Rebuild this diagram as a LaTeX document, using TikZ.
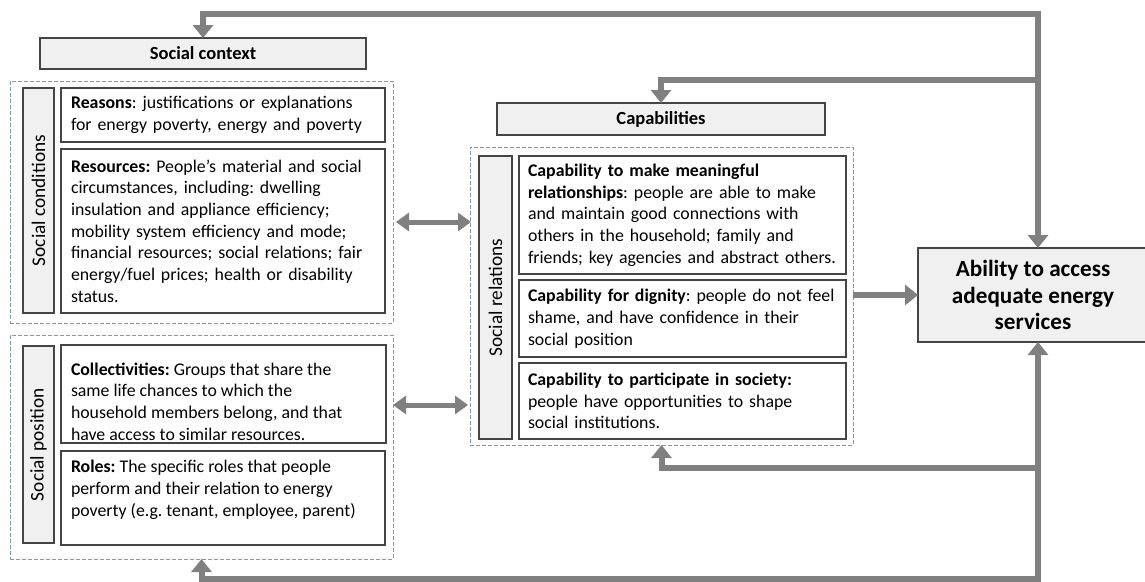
\documentclass[tikz,border=0pt]{standalone}
\usepackage{fontspec}
\setmainfont{Carlito}
\usetikzlibrary{arrows.meta}
\definecolor{arrowgray}{HTML}{808080}
\definecolor{boxline}{HTML}{454545}
\definecolor{hdrfill}{HTML}{F0F0F0}
\definecolor{dashcol}{HTML}{8496B0}
\frenchspacing
\begin{document}
\begin{tikzpicture}[x=1pt,y=-1pt,
  every node/.style={inner sep=0pt, outer sep=0pt},
  bodyfont/.style={font=\fontsize{17.8}{21.7}\selectfont},
  cbox/.style={draw=boxline, line width=1.2pt, fill=white, anchor=north west, align=left, inner xsep=10pt, bodyfont},
  txt/.style={anchor=north west, align=left, bodyfont},
  hdr/.style={draw=boxline, line width=1.2pt, fill=hdrfill, anchor=north west, font=\bfseries\fontsize{18.5}{22}\selectfont},
  side/.style={draw=boxline, line width=1.2pt, fill=hdrfill, rotate=90, font=\fontsize{19.3}{22}\selectfont},
  grp/.style={draw=dashcol, dash pattern=on 4pt off 2pt, line width=1pt, anchor=north west},
  fb/.style={draw=arrowgray, line width=6pt, -{Triangle[width=20pt,length=13pt]}},
  fbb/.style={draw=arrowgray, line width=6pt, {Triangle[width=20pt,length=13pt]}-{Triangle[width=20pt,length=13pt]}},
  dbl/.style={draw=arrowgray, line width=5pt, {Triangle[width=18pt,length=13pt]}-{Triangle[width=18pt,length=13pt]}},
]
\useasboundingbox (0,0) rectangle (1145,581);
\fill[white] (0,0) rectangle (1145,581);

% dashed groups
\node[grp, minimum width=383pt, minimum height=242pt] (grp1) at (10,81) {};
\node[grp, minimum width=383pt, minimum height=224pt] (grp2) at (10,335) {};
\node[grp, minimum width=383pt, minimum height=298pt] (grp3) at (470,147) {};

% headers
\node[hdr, minimum width=326pt, minimum height=31pt] (ctx) at (40,38) {Social context};
\node[hdr, minimum width=328pt, minimum height=32pt] (cap) at (497,103) {Capabilities};

% side labels
\node[side, minimum width=225pt, minimum height=31pt] (scond) at (38.5,200.5) {Social conditions};
\node[side, minimum width=197pt, minimum height=31pt] (spos) at (38.5,444.5) {Social position};
\node[side, minimum width=283pt, minimum height=33pt] (srel) at (495.5,297.5) {Social relations};

% social conditions
\node[cbox, minimum width=324pt, minimum height=54pt, text width=304pt] (reasons) at (61,88)
  {\textbf{Reasons}: justifications or explanations\\for energy poverty, energy and poverty};
\node[cbox, minimum width=324pt, minimum height=164pt, text width=304pt] (resources) at (61,149)
  {\textbf{Resources:} People’s material and social\\circumstances, including: dwelling\\insulation and appliance efficiency;\\mobility system efficiency and mode;\\financial resources; social relations; fair\\energy/fuel prices; health or disability\\status.};

% social position
\node[cbox, minimum width=325pt, minimum height=98pt] (coll) at (61,345) {};
\node[txt] (colltxt) at ([xshift=10pt,yshift=-17.5pt]coll.north west)
  {\textbf{Collectivities:} Groups that share the\\same life chances to which the\\household members belong, and that\\have access to similar resources.};
\node[cbox, minimum width=324pt, minimum height=94pt] (roles) at (61,451) {};
\node[txt] (rolestxt) at ([xshift=10pt,yshift=-9.5pt]roles.north west)
  {\textbf{Roles:} The specific roles that people\\perform and their relation to energy\\poverty (e.g. tenant, employee, parent)};

% capabilities
\node[cbox, minimum width=327pt, minimum height=118pt, inner xsep=9pt, text width=309pt] (c1) at (519,156)
  {\textbf{Capability to make meaningful}\\\textbf{relationships}: people are able to make\\and maintain good connections with\\others in the household; family and\\friends; key agencies and abstract others.};
\node[cbox, minimum width=327pt, minimum height=77pt, inner xsep=9pt, text width=309pt] (c2) at (519,280)
  {\textbf{Capability for dignity}: people do not feel\\shame, and have confidence in their\\social position};
\node[cbox, minimum width=327pt, minimum height=76pt, inner xsep=9pt, text width=309pt] (c3) at (519,363)
  {\textbf{Capability to participate in society:}\\people have opportunities to shape\\social institutions.};

% outcome
\node[draw=boxline, line width=1.2pt, fill=hdrfill, anchor=north west, minimum width=230pt, minimum height=94pt,
  align=center, font=\bfseries\fontsize{23.2}{26.5}\selectfont] (abil) at (918,248)
  {Ability to access\\adequate energy\\services};

% horizontal arrows
\coordinate (ya) at (0,222);
\coordinate (yb) at (0,405);
\draw[dbl] ([xshift=3pt]grp1.east |- ya) -- ([xshift=1pt]grp3.west |- ya);
\draw[dbl] (grp2.east |- yb) -- ([xshift=-2pt]grp3.west |- yb);
\draw[fb] (grp3.east |- abil.west) -- (abil.west);

% feedback loops
\coordinate (vt) at (1038,14);
\coordinate (vc) at (1038,80);
\coordinate (vcb) at (1038,468);
\coordinate (vb) at (1038,579);
\draw[fbb, line join=miter] (ctx.north) |- (vt) -- (vt |- abil.north);
\draw[fb] (vc) -| (cap.north);
\draw[fbb, line join=miter] (grp2.south) |- (vb) -- (vb |- abil.south);
\draw[fb] (vcb) -| (grp3.south);
\end{tikzpicture}
\end{document}
